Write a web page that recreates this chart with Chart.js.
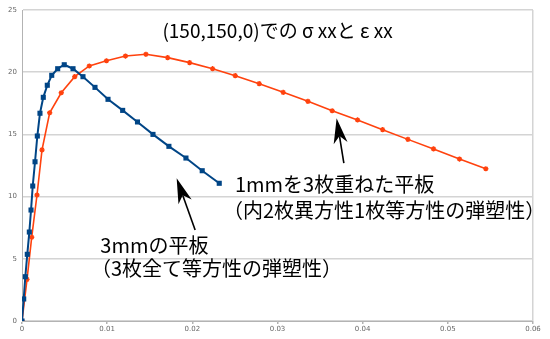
<!DOCTYPE html>
<html>
<head>
<meta charset="utf-8">
<script src="https://cdn.jsdelivr.net/npm/chart.js@4"></script>
<style>
  body { margin: 0; background: #fff; }
</style>
</head>
<body>
<canvas id="ssChart" width="550" height="339"></canvas>
<script>
// ひずみ ε xx と応力 σ xx
const strain3mm = [0, 0.0002, 0.00039, 0.00062, 0.00086, 0.00106, 0.00126, 0.00153, 0.0018, 0.00211,
  0.0025, 0.00297, 0.00349, 0.00419, 0.00496, 0.00599, 0.00716, 0.00857, 0.0101, 0.01182,
  0.01356, 0.01538, 0.01725, 0.01925, 0.02116, 0.02316];
const stress3mm = [0, 1.77, 3.56, 5.36, 7.15, 8.92, 10.85, 12.8, 14.87, 16.7,
  17.98, 18.95, 19.75, 20.28, 20.6, 20.28, 19.64, 18.78, 17.82, 16.93,
  16.0, 15.0, 14.04, 13.1, 12.08, 11.07];

const strain1mm = [0, 0.00059, 0.00114, 0.00176, 0.00235, 0.00325, 0.00461, 0.00619, 0.0079, 0.00992,
  0.01215, 0.01455, 0.0171, 0.01968, 0.02238, 0.02504, 0.02785, 0.03067, 0.03357, 0.03642,
  0.0394, 0.04234, 0.04531, 0.04832, 0.05137, 0.05446];
const stress1mm = [0, 3.35, 6.73, 10.13, 13.75, 16.74, 18.35, 19.64, 20.5, 20.92,
  21.3, 21.44, 21.17, 20.77, 20.28, 19.72, 19.08, 18.38, 17.66, 16.9,
  16.16, 15.38, 14.6, 13.83, 13.02, 12.24];

const xTicks = [0, 0.01, 0.02, 0.03, 0.04, 0.05, 0.06];
const yTicks = [0, 5, 10, 15, 20, 25];

const titleText = "(150,150,0)での σ xxと ε xx";
const label1mm = ["1mmを3枚重ねた平板", "（内2枚異方性1枚等方性の弾塑性）"];
const label3mm = ["3mmの平板", "（3枚全て等方性の弾塑性）"];

const toPoints = (xs, ys) => xs.map((x, i) => ({ x: x, y: ys[i] }));

const jpFont = '"Noto Sans CJK JP", "Noto Sans", sans-serif';
const gridGray = "#d4d4d4";

// タイトル・注記・矢印（データ座標で配置）
const notes = {
  id: "notes",
  afterDatasetsDraw(chart) {
    const { ctx, scales: { x, y }, chartArea } = chart;
    const px = v => x.getPixelForValue(v);
    const py = v => y.getPixelForValue(v);
    ctx.save();
    ctx.fillStyle = "#000";
    ctx.textBaseline = "middle";

    ctx.font = "19px " + jpFont;
    ctx.textAlign = "center";
    ctx.fillText(titleText, (chartArea.left + chartArea.right) / 2, chartArea.top + 21);

    ctx.font = "20px " + jpFont;
    ctx.textAlign = "left";
    ctx.fillText(label1mm[0], px(0.025), py(11.0));
    ctx.fillText(label1mm[1], px(0.0236), py(8.9));
    ctx.fillText(label3mm[0], px(0.0092), py(6.1));
    ctx.fillText(label3mm[1], px(0.0081), py(4.26));

    const arrow = (x0, y0, x1, y1) => {
      const ax = px(x0), ay = py(y0), bx = px(x1), by = py(y1);
      const ang = Math.atan2(by - ay, bx - ax);
      const len = 25, half = 7, notch = 18;
      ctx.strokeStyle = "#000";
      ctx.lineWidth = 1.6;
      ctx.beginPath();
      ctx.moveTo(ax, ay);
      ctx.lineTo(bx - Math.cos(ang) * notch, by - Math.sin(ang) * notch);
      ctx.stroke();
      const cx = bx - Math.cos(ang) * len, cy = by - Math.sin(ang) * len;
      const nx = -Math.sin(ang), ny = Math.cos(ang);
      ctx.beginPath();
      ctx.moveTo(bx, by);
      ctx.lineTo(cx + nx * half, cy + ny * half);
      ctx.lineTo(bx - Math.cos(ang) * notch, by - Math.sin(ang) * notch);
      ctx.lineTo(cx - nx * half, cy - ny * half);
      ctx.closePath();
      ctx.fill();
    };
    arrow(0.03779, 12.7, 0.03694, 16.29);
    arrow(0.02033, 7.31, 0.01816, 11.47);
    ctx.restore();
  }
};

new Chart(document.getElementById("ssChart"), {
  type: "scatter",
  data: {
    datasets: [
      {
        label: "3mm",
        data: toPoints(strain3mm, stress3mm),
        showLine: true,
        borderColor: "#004586",
        backgroundColor: "#004586",
        borderWidth: 2,
        pointStyle: "rect",
        pointRadius: 3.6,
        pointBorderWidth: 0,
        tension: 0,
      },
      {
        label: "1mm x3",
        data: toPoints(strain1mm, stress1mm),
        showLine: true,
        borderColor: "#ff420e",
        backgroundColor: "#ff420e",
        borderWidth: 1.6,
        pointStyle: "star",
        pointRadius: 2.6,
        pointBorderWidth: 1.4,
        tension: 0,
      },
    ],
  },
  options: {
    responsive: false,
    animation: false,
    layout: { padding: { top: 10, right: 17, left: 0, bottom: 0 } },
    plugins: {
      legend: { display: false },
      tooltip: { enabled: false },
    },
    scales: {
      x: {
        type: "linear",
        min: xTicks[0],
        max: xTicks[xTicks.length - 1],
        afterFit: s => { s.height = 18; },
        afterBuildTicks: s => { s.ticks = xTicks.map(v => ({ value: v })); },
        border: { color: "#b3b3b3", width: 1 },
        grid: {
          color: c => (c.tick && c.tick.value === 0.06 ? gridGray : "rgba(0,0,0,0)"),
          tickColor: "#b3b3b3",
          tickLength: 3,
          lineWidth: 1.5,
        },
        ticks: {
          color: "#666",
          font: { family: "DejaVu Sans", size: 7 },
          padding: 1,
          maxRotation: 0,
          callback: v => String(+v.toFixed(2)),
        },
      },
      y: {
        min: yTicks[0],
        max: yTicks[yTicks.length - 1],
        afterFit: s => { s.width = 22; },
        afterBuildTicks: s => { s.ticks = yTicks.map(v => ({ value: v })); },
        border: { color: "#b3b3b3", width: 1 },
        grid: {
          color: gridGray,
          lineWidth: 1.5,
          drawTicks: false,
        },
        ticks: {
          color: "#666",
          font: { family: "DejaVu Sans", size: 7 },
          padding: 5,
        },
      },
    },
  },
  plugins: [notes],
});
</script>
</body>
</html>
